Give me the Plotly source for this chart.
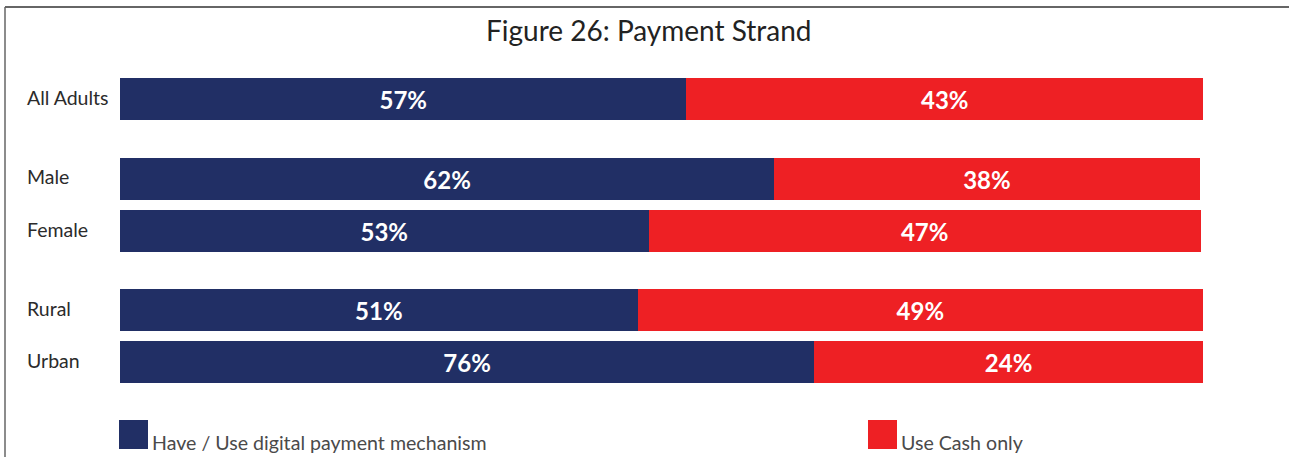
import plotly.graph_objects as go

# ---- data ----
categories = ["All Adults", "Male", "Female", "Rural", "Urban"]
series_names = ["Have / Use digital payment mechanism", "Use Cash only"]
# bar lengths as drawn in the reference (percent of full width)
digital_len = [52.3, 60.4, 48.8, 47.8, 64.1]
cash_len = [47.7, 39.3, 51.0, 52.2, 35.9]
# printed labels
digital_lbl = ["57%", "62%", "53%", "51%", "76%"]
cash_lbl = ["43%", "38%", "47%", "49%", "24%"]
title_text = "Figure 26: Payment Strand"

# ---- layout helpers ----
W, H = 1289, 457
X0, X1 = 120, 1203            # pixel span of 0..100
row_px = [99, 179, 231, 310, 362]  # row centres (pixels from top)
BAR_H = 42
BLUE = "#212F65"
RED = "#EE2024"
FONT = "Lato"

ppu = (X1 - X0) / 100.0
xr = [-X0 / ppu, (W - X0) / ppu]


def px(x):
    return x / W


def py(y):
    return 1 - y / H


fig = go.Figure()
for vals, lbls, name, col in [(digital_len, digital_lbl, series_names[0], BLUE),
                              (cash_len, cash_lbl, series_names[1], RED)]:
    fig.add_trace(go.Bar(
        y=row_px, x=vals, orientation="h", name=name,
        marker=dict(color=col, line=dict(width=0)), width=BAR_H,
        text=lbls, textposition="inside", insidetextanchor="middle",
        textfont=dict(color="white", size=24, family=FONT, weight="bold"),
        hoverinfo="skip",
    ))

annotations = []
for cat, yy in zip(categories, row_px):
    annotations.append(dict(
        text=cat, xref="paper", yref="paper", x=px(25), y=py(yy - 2),
        xanchor="left", yanchor="middle", showarrow=False,
        font=dict(size=19.5, color="#2b2b2b", family=FONT)))

annotations.append(dict(
    text=title_text, xref="paper", yref="paper", x=px(649), y=py(30),
    xanchor="center", yanchor="middle", showarrow=False,
    font=dict(size=28, color="#222222", family=FONT)))

shapes = [
    dict(type="line", xref="paper", yref="paper", x0=px(5), x1=1, y0=py(7), y1=py(7),
         line=dict(color="#666666", width=2)),
    dict(type="line", xref="paper", yref="paper", x0=px(5), x1=px(5), y0=py(7), y1=0,
         line=dict(color="#666666", width=1.5)),
]

legend_pos = [(119, 420), (868, 420)]
for (lx, ly), name, col in zip(legend_pos, series_names, [BLUE, RED]):
    shapes.append(dict(type="rect", xref="paper", yref="paper",
                       x0=px(lx), x1=px(lx + 29), y0=py(ly), y1=py(ly + 29),
                       fillcolor=col, line=dict(width=0)))
    annotations.append(dict(
        text=name, xref="paper", yref="paper", x=px(lx + 31), y=py(ly + 22),
        xanchor="left", yanchor="middle", showarrow=False,
        font=dict(size=19.6, color="#4a4a4a", family=FONT)))

fig.update_layout(
    barmode="stack", width=W, height=H, autosize=False,
    margin=dict(l=0, r=0, t=0, b=0),
    paper_bgcolor="white", plot_bgcolor="white",
    showlegend=False,
    xaxis=dict(range=xr, visible=False, fixedrange=True),
    yaxis=dict(range=[H, 0], visible=False, fixedrange=True),
    annotations=annotations, shapes=shapes,
    uniformtext=dict(minsize=10, mode="show"),
)

fig.write_html("out.html", include_plotlyjs=True, full_html=True,
               config={"displayModeBar": False},
               post_script="document.body.style.margin='0';")
